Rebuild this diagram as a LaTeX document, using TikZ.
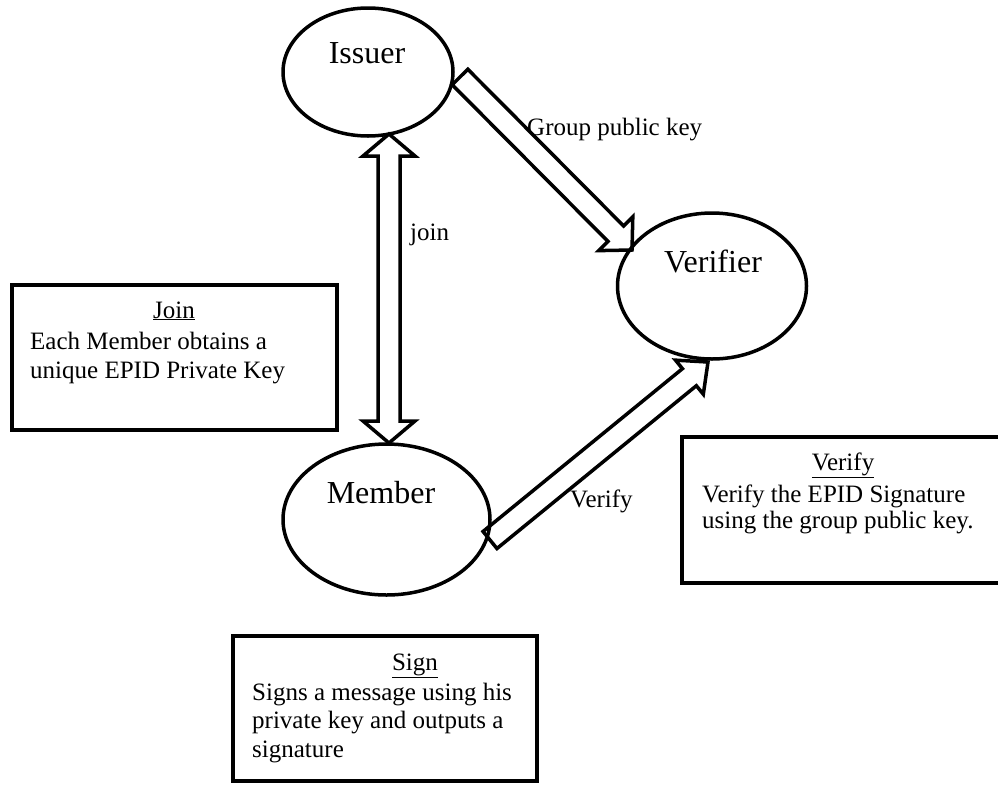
\documentclass[tikz,border=0pt]{standalone}
\usepackage{fontspec}
\setmainfont{Liberation Serif}
\usetikzlibrary{calc,shapes.geometric}
\tikzset{
  ell/.style={ellipse, draw, line width=3.5pt, inner sep=0pt},
  fat/.style={draw, line width=3.5pt, line join=miter},
  boxr/.style={draw, line width=4pt, inner sep=0pt},
  lbl/.style={font=\fontsize{32}{36}\selectfont, inner sep=0pt, anchor=base},
  txt/.style={font=\fontsize{25}{28.5}\selectfont, inner sep=0pt, align=left, anchor=base west},
  ttl/.style={font=\fontsize{25}{28}\selectfont, inner sep=0pt, anchor=base},
}
\newcommand\fatarrow[4]{% from, to, head half width, head length
  \path[fat] let \p1=($(#2)-(#1)$), \n1={atan2(\y1,\x1)}, \n2={veclen(\x1,\y1)} in
    [shift={(#1)}, rotate=\n1]
    (0pt,-11pt) -- ({\n2-#4pt},-11pt) -- ({\n2-#4pt},-#3pt) -- (\n2,0pt)
    -- ({\n2-#4pt},#3pt) -- ({\n2-#4pt},11pt) -- (0pt,11pt) -- cycle;}
\newcommand\fatdarrow[4]{%
  \path[fat] let \p1=($(#2)-(#1)$), \n1={atan2(\y1,\x1)}, \n2={veclen(\x1,\y1)} in
    [shift={(#1)}, rotate=\n1]
    (0pt,0pt) -- (#4pt,-#3pt) -- (#4pt,-11pt) -- ({\n2-#4pt},-11pt) -- ({\n2-#4pt},-#3pt) -- (\n2,0pt)
    -- ({\n2-#4pt},#3pt) -- ({\n2-#4pt},11pt) -- (#4pt,11pt) -- (#4pt,#3pt) -- cycle;}
\begin{document}
\begin{tikzpicture}[x=1pt,y=-1pt]
\useasboundingbox (0,0) rectangle (998,785);

% ellipses
\node[ell, minimum width=170pt, minimum height=128pt] (issuer) at (368,72) {};
\node[ell, minimum width=189pt, minimum height=146pt] (verifier) at (712,286) {};
\node[ell, minimum width=207pt, minimum height=151pt] (member) at (386.5,519.5) {};
\node[lbl] (issuerT) at (367,63) {Issuer};
\node[lbl] (verifierT) at (713,272) {Verifier};
\node[lbl] (memberT) at (381,503) {Member};

% connector end points
\coordinate (jtop) at (389,134);
\coordinate (jbot) at (389,443);
\coordinate (gtail) at (460,77);
\coordinate (gtip) at (632,250);
\coordinate (vtail) at (490,540);
\coordinate (vtip) at (708,362);

\fatdarrow{jtop}{jbot}{26}{22}
\fatarrow{gtail}{gtip}{24}{23}
\fatarrow{vtail}{vtip}{22}{24}

% edge labels
\node[txt] (joinL) at (410,240) {join};
\node[txt] (gpkL) at (527,135) {Group public key};
\node[txt] (verL) at (570,507) {Verify};

% boxes
\draw[boxr] (12,285) rectangle (337,430);
\node[ttl] (joinTitle) at (174,318) {\underline{Join}};
\node[txt] (joinBody) at (30,378) {Each Member obtains a\\unique EPID Private Key};

\draw[boxr] (682,437) rectangle (1010,583);
\node[ttl] (verTitle) at (843,470) {\underline{Verify}};
\node[txt, font=\fontsize{25}{26}\selectfont] (verBody) at (702,528) {Verify the EPID Signature\\using the group public key.};

\draw[boxr] (233,636) rectangle (537,781);
\node[ttl] (signTitle) at (415,670) {\underline{Sign}};
\node[txt] (signBody) at (252,757) {Signs a message using his\\private key and outputs a\\signature};
\end{tikzpicture}
\end{document}
